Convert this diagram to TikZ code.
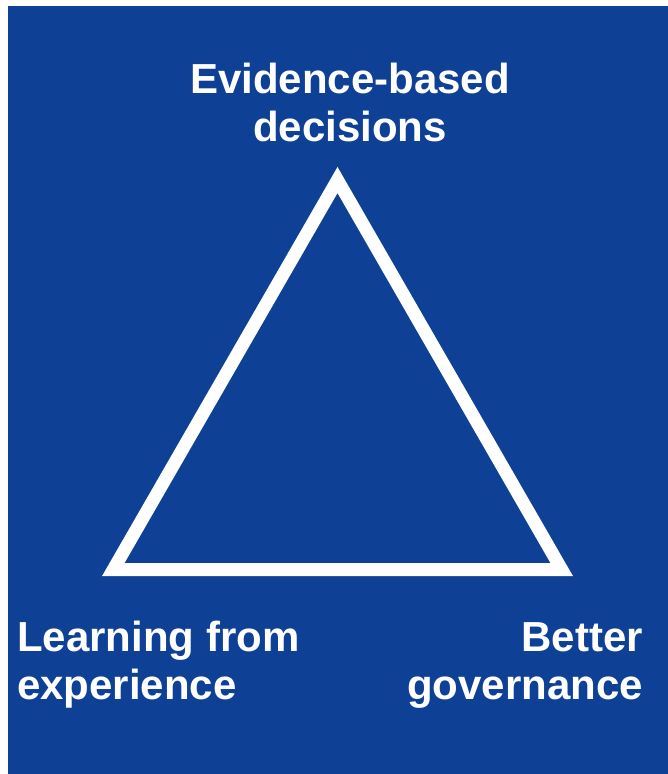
\documentclass[tikz,border=0pt]{standalone}
\usepackage{fontspec}
\setmainfont{Liberation Sans}
\definecolor{bgblue}{HTML}{0E4195}
\tikzset{
  lbl/.style={text=white, inner sep=0pt, font=\bfseries\fontsize{42}{48.5}\selectfont},
  tri/.style={draw=white, line width=13pt, miter limit=10, line join=miter}
}
\begin{document}
\begin{tikzpicture}[x=1pt,y=-1pt]
\useasboundingbox (0,0) rectangle (668,774);
\fill[white] (0,0) rectangle (668,774);
\fill[bgblue] (8,6) rectangle (668,774);
\coordinate (apex) at (337.5,180);
\coordinate (bl) at (113.3,569.5);
\coordinate (br) at (561.7,569.5);
\draw[tri] (apex) -- (bl) -- (br) -- cycle;
\node[lbl, anchor=base] (top) at (350,93) {\begin{tabular}[t]{@{}c@{}}Evidence-based\\decisions\end{tabular}};
\node[lbl, anchor=base west] (left) at (17,651) {\begin{tabular}[t]{@{}l@{}}Learning from\\experience\end{tabular}};
\node[lbl, anchor=base east] (right) at (643,651) {\begin{tabular}[t]{@{}r@{}}Better\\governance\end{tabular}};
\end{tikzpicture}
\end{document}
